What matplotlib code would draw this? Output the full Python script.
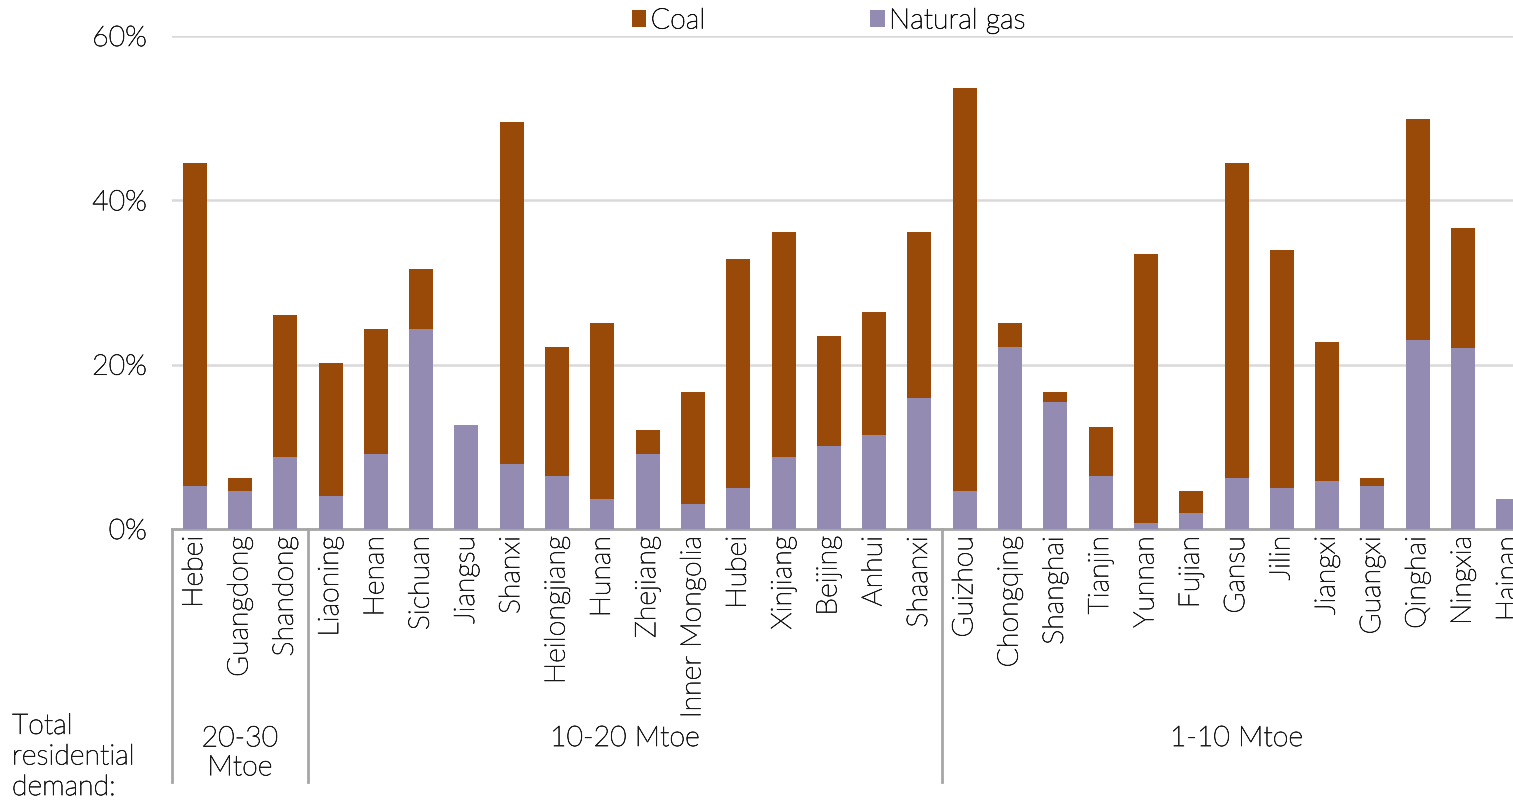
import matplotlib
matplotlib.use("Agg")
import matplotlib.pyplot as plt
from matplotlib.patches import Patch
from matplotlib.text import Text
import matplotlib.patheffects as pe
import matplotlib.transforms as mtransforms

plt.rcParams["font.family"] = ["Lato", "DejaVu Sans"]
plt.rcParams["font.weight"] = "light"

PROVINCES = ["Hebei", "Guangdong", "Shandong",
             "Liaoning", "Henan", "Sichuan", "Jiangsu", "Shanxi", "Heilongjiang",
             "Hunan", "Zhejiang", "Inner Mongolia", "Hubei", "Xinjiang", "Beijing",
             "Anhui", "Shaanxi",
             "Guizhou", "Chongqing", "Shanghai", "Tianjin", "Yunnan", "Fujian",
             "Gansu", "Jilin", "Jiangxi", "Guangxi", "Qinghai", "Ningxia", "Hainan"]
# share of residential demand, %
GAS   = [5.2, 4.6, 8.8, 4.0, 9.1, 24.4, 12.7, 7.9, 6.5, 3.7, 9.1, 3.0, 5.0, 8.8,
         10.1, 11.5, 16.0, 4.6, 22.2, 15.4, 6.5, 0.7, 2.0, 6.2, 5.0, 5.9, 5.2,
         23.0, 22.0, 3.6]
TOTAL = [44.6, 6.2, 26.1, 20.2, 24.4, 31.6, 12.7, 49.5, 22.2, 25.1, 12.1, 16.7,
         32.9, 36.1, 23.5, 26.4, 36.1, 53.7, 25.1, 16.7, 12.4, 33.5, 4.6, 44.6,
         33.9, 22.8, 6.2, 49.9, 36.6, 3.6]
COAL = [t - g for t, g in zip(TOTAL, GAS)]

GROUPS = ["20-30\nMtoe", "10-20 Mtoe", "1-10 Mtoe"]
GROUP_SIZES = [3, 14, 13]

COAL_C = "#994a08"
GAS_C = "#948bb3"
GRID_C = "#d9d9d9"
AXIS_C = "#a6a6a6"
TXT_C = "#1a1a1a"
FS = 20.5

fig = plt.figure(figsize=(15.13, 8.02), dpi=100)
ax = fig.add_axes([172 / 1513, 1 - 529 / 802, (1531 - 172) / 1513, (529 - 36) / 802])

x = list(range(len(PROVINCES)))
ax.bar(x, GAS, width=0.53, color=GAS_C, zorder=3)
ax.bar(x, COAL, bottom=GAS, width=0.53, color=COAL_C, zorder=3)

ax.set_xlim(-0.5, len(PROVINCES) - 0.5)
ax.set_ylim(0, 60)
ax.set_yticks([0, 20, 40, 60])
ax.set_yticklabels(["0%", "20%", "40%", "60%"], fontsize=FS, color=TXT_C)
ax.yaxis.grid(True, color=GRID_C, linewidth=1.8, zorder=0)
ax.tick_params(axis="y", length=0, pad=18)
ax.set_xticks(x)
ax.set_xticklabels(PROVINCES, rotation=90, fontsize=FS, color=TXT_C)
ax.tick_params(axis="x", length=0, pad=5)
for s in ["top", "right", "left"]:
    ax.spines[s].set_visible(False)
ax.spines["bottom"].set_color(AXIS_C)
ax.spines["bottom"].set_linewidth(2)

# group separators and labels below the axis
trans = mtransforms.blended_transform_factory(ax.transData, ax.transAxes)
bounds = [-0.5]
for n in GROUP_SIZES:
    bounds.append(bounds[-1] + n)
for b in bounds[:-1]:
    ax.plot([b, b], [0, -0.513], color=AXIS_C, linewidth=2,
            transform=trans, clip_on=False)
for i, g in enumerate(GROUPS):
    mid = (bounds[i] + bounds[i + 1]) / 2
    ax.text(mid, -0.425 if "\n" not in g else -0.455, g, transform=trans,
            ha="center", va="center", fontsize=FS, color=TXT_C,
            linespacing=1.2)

fig.text(12 / 1513, 1 - 757 / 802, "Total\nresidential\ndemand:",
         ha="left", va="center", fontsize=FS, color=TXT_C, linespacing=1.28)

handles = [Patch(facecolor=COAL_C, label="Coal"),
           Patch(facecolor=GAS_C, label="Natural gas")]
fig.legend(handles=handles, loc="center", bbox_to_anchor=(829 / 1513, 1 - 21 / 802),
           ncol=2, frameon=False, fontsize=FS, handlelength=0.5,
           handleheight=0.5, handletextpad=0.15, columnspacing=5.8)

# the light face is a touch too thin; thicken strokes slightly
for t in fig.findobj(Text):
    t.set_path_effects([pe.withStroke(linewidth=0.5, foreground=TXT_C)])

fig.savefig("out.png", dpi=100)
